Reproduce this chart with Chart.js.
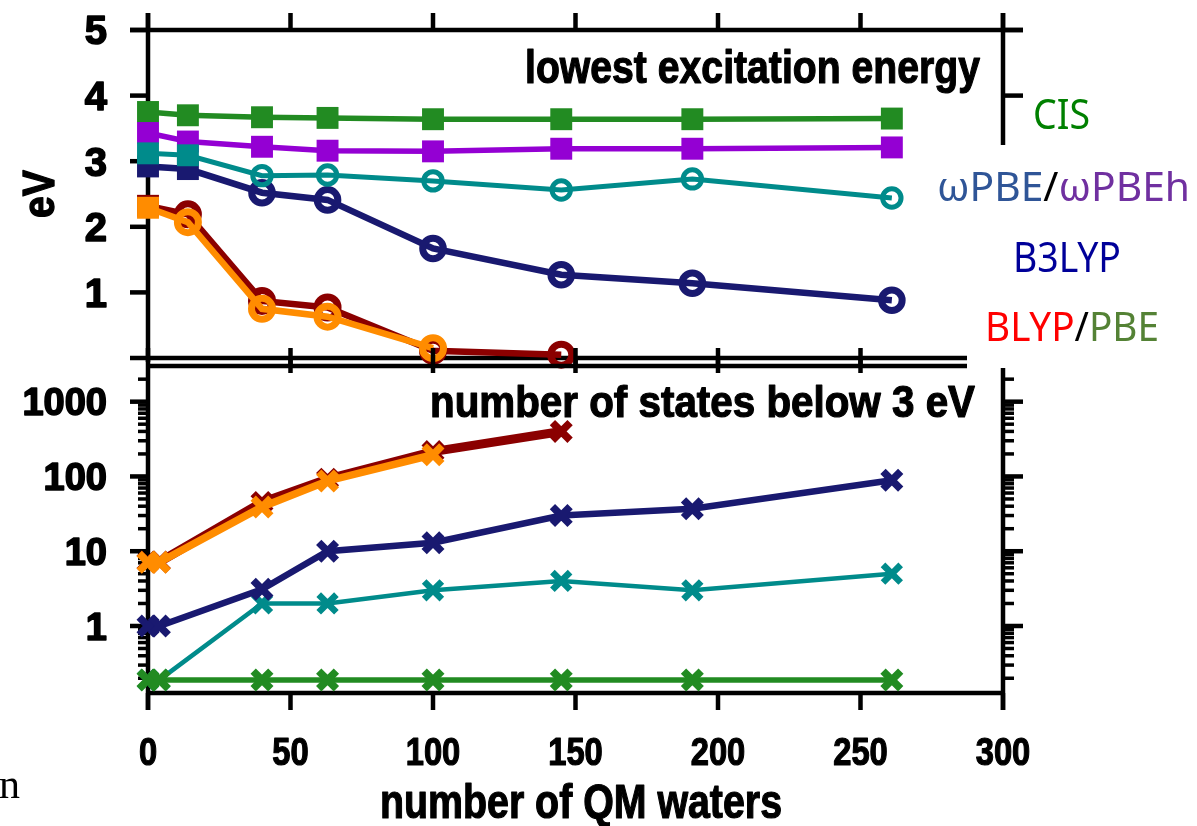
<!DOCTYPE html>
<html><head><meta charset="utf-8">
<script src="https://cdn.jsdelivr.net/npm/chart.js@4.4.1/dist/chart.umd.min.js"></script>
<style>
html,body{margin:0;padding:0;background:#fff;}
#wrap{position:relative;width:1197px;height:826px;overflow:hidden;background:#fff;}
canvas{position:absolute;left:0;top:0;}
</style></head><body>
<div id="wrap"><canvas id="cTop" width="1197" height="826"></canvas><canvas id="cBot" width="1197" height="826"></canvas></div>
<script>
// ---------------- data ----------------
const waterTop = [0, 14, 40, 63, 100, 145, 191, 261];
const waterBot = [0, 4, 40, 63, 100, 145, 191, 261];

// lowest excitation energy (eV)
const excCIS   = [3.75, 3.70, 3.67, 3.66, 3.64, 3.64, 3.64, 3.65];
const excWPBEh = [3.43, 3.30, 3.22, 3.16, 3.15, 3.19, 3.19, 3.21];
const excWPBE  = [3.12, 3.09, 2.78, 2.79, 2.70, 2.56, 2.73, 2.44];
const excB3LYP = [2.92, 2.88, 2.52, 2.41, 1.67, 1.27, 1.14, 0.88];
const excBLYP  = [2.32, 2.19, 0.87, 0.77, 0.11, 0.05];
const excPBE   = [2.29, 2.07, 0.75, 0.63, 0.15];

// number of leading square markers per series (rest are open circles)
const sqCIS = 8, sqWPBEh = 8, sqWPBE = 2, sqB3LYP = 2, sqBLYP = 1, sqPBE = 1;

// number of states below 3 eV
const nCIS   = [0.19, 0.19, 0.19, 0.19, 0.19, 0.19, 0.19, 0.19];
const nWPBE  = [0.19, 0.19, 2, 2, 3, 4, 3, 5];
const nB3LYP = [1, 1, 3.1, 10, 13, 30, 37, 89];
const nBLYP  = [7.2, 7.2, 45, 92, 215, 400];
const nPBE   = [7.1, 7.1, 39, 87, 195];

// axes
const waterRange = [0, 300];
const eRange = [0, 5];
const nRange = [0.127, 3000];
const xTickValues = [0, 50, 100, 150, 200, 250, 300];
const xTickLabels = ['0', '50', '100', '150', '200', '250', '300'];
const eTickValues = [0, 1, 2, 3, 4, 5];
const eTickLabels = ['', '1', '2', '3', '4', '5'];
const nTickValues = [1, 10, 100, 1000];
const nTickLabels = ['1', '10', '100', '1000'];
const nMinorMantissas = [2, 3, 4, 5, 6, 7, 8, 9];

// colours
const C_CIS = '#228B22', C_WPBEH = '#9400D3', C_WPBE = '#008B8B', C_B3LYP = '#191970', C_BLYP = '#8B0000', C_PBE = '#FF8C00';

// ---------------- helpers ----------------
function pts(xs, ys) { return ys.map((y, i) => ({x: xs[i], y: y})); }

function txt(ctx, runs, x, y, o) {
  ctx.save();
  ctx.font = o.font; ctx.textBaseline = 'alphabetic'; ctx.textAlign = 'left';
  const total = runs.reduce((s, r) => s + ctx.measureText(r[0]).width, 0);
  const sx = o.width ? o.width / total : (o.sx || 1);
  const w = total * sx;
  ctx.translate(x, y);
  if (o.rot) ctx.rotate(o.rot);
  const off = o.align === 'right' ? -w : (o.align === 'center' ? -w / 2 : 0);
  ctx.translate(off, 0);
  ctx.scale(sx, 1);
  let cx = 0;
  for (const [t, c] of runs) {
    ctx.fillStyle = c; ctx.fillText(t, cx, 0);
    if (o.stroke) { ctx.strokeStyle = c; ctx.lineWidth = o.stroke; ctx.lineJoin = 'round'; ctx.strokeText(t, cx, 0); }
    cx += ctx.measureText(t).width;
  }
  ctx.restore();
}
function seg(ctx, x1, y1, x2, y2) { ctx.beginPath(); ctx.moveTo(x1, y1); ctx.lineTo(x2, y2); ctx.stroke(); }

const BOLD = (s) => 'bold ' + s + 'px "Liberation Sans", Arial, Helvetica, sans-serif';
const SANS = (s) => s + 'px "Noto Sans", "Open Sans", sans-serif';
const LINE_END = 967;

function topSet(label, ys, color, nSq, lw, r, rw) {
  return {
    label, data: pts(waterTop, ys), borderColor: color, backgroundColor: color,
    borderWidth: lw, fill: false, tension: 0, clip: false,
    pointStyle: c => c.dataIndex < nSq ? 'rect' : 'circle',
    pointRadius: c => c.dataIndex < nSq ? 15.5 : r,
    pointHoverRadius: c => c.dataIndex < nSq ? 15.5 : r,
    pointBorderWidth: c => c.dataIndex < nSq ? 0 : rw,
    pointBackgroundColor: c => c.dataIndex < nSq ? color : 'rgba(0,0,0,0)',
    pointBorderColor: color
  };
}
function botSet(label, ys, color, lw, mw) {
  return {
    label, data: pts(waterBot, ys), borderColor: color, backgroundColor: color,
    borderWidth: lw, fill: false, tension: 0, clip: false,
    pointStyle: 'crossRot', pointRadius: 12.5, pointHoverRadius: 12.5,
    pointBorderWidth: mw, pointBorderColor: color, pointBackgroundColor: color
  };
}

// ---------------- top panel ----------------
const topFrame = {
  id: 'topFrame',
  beforeDatasetsDraw(chart) {
    const ctx = chart.ctx, xs = chart.scales.x, ys = chart.scales.y;
    const L = xs.getPixelForValue(waterRange[0]), R = xs.getPixelForValue(waterRange[1]);
    const T = ys.getPixelForValue(eRange[1]), B = ys.getPixelForValue(eRange[0]);
    ctx.save(); ctx.strokeStyle = '#000'; ctx.lineWidth = 4.5; ctx.lineCap = 'butt';
    seg(ctx, L, T - 17, L, B + 4);
    seg(ctx, L - 18, T, R + 20, T);
    seg(ctx, R, T - 17, R, 145);
    seg(ctx, L, B, LINE_END, B);
    eTickValues.forEach(v => { const y = ys.getPixelForValue(v); seg(ctx, L - 18, y, L, y); if (y < 140) seg(ctx, R, y, R + 20, y); });
    xTickValues.forEach(v => { const x = xs.getPixelForValue(v); seg(ctx, x, T - 17, x, T); if (x > L + 2 && x < LINE_END) seg(ctx, x, B, x, B + 15); });
    ctx.restore();
  },
  afterDraw(chart) {
    const ctx = chart.ctx, ys = chart.scales.y;
    eTickValues.forEach((v, i) => {
      if (!eTickLabels[i]) return;
      txt(ctx, [[eTickLabels[i], '#000']], 107, ys.getPixelForValue(v) + 14.3, {font: BOLD(40), align: 'right', stroke: 1.6});
    });
    txt(ctx, [['eV', '#000']], 54, 194, {font: BOLD(44), align: 'center', rot: -Math.PI / 2, width: 48, stroke: 1.4});
    txt(ctx, [['lowest excitation energy', '#000']], 525, 83, {font: BOLD(46), width: 455, stroke: 1.2});
    txt(ctx, [['CIS', '#008000']], 1033, 129, {font: SANS(42), width: 57});
    txt(ctx, [['ωPBE', '#2F5597'], ['/', '#000'], ['ωPBEh', '#7030A0']], 937, 201, {font: SANS(40), width: 253});
    txt(ctx, [['B3LYP', '#000099']], 1013, 272, {font: SANS(41), width: 108});
    txt(ctx, [['BLYP', '#FF0000'], ['/', '#000'], ['PBE', '#548235']], 985, 341, {font: SANS(40), width: 174});
    ctx.save(); ctx.font = '42px "Liberation Serif", "DejaVu Serif", serif'; ctx.fillStyle = '#000'; ctx.textBaseline = 'alphabetic';
    ctx.fillText('n', -1, 798); ctx.restore();
  }
};

new Chart(document.getElementById('cTop'), {
  type: 'line',
  data: { datasets: [
    topSet('PBE', excPBE, C_PBE, sqPBE, 6.5, 10.5, 7),
    topSet('BLYP', excBLYP, C_BLYP, sqBLYP, 6.5, 10.5, 7),
    topSet('ωPBE', excWPBE, C_WPBE, sqWPBE, 5, 9.2, 5),
    topSet('B3LYP', excB3LYP, C_B3LYP, sqB3LYP, 6.5, 10.3, 7),
    topSet('ωPBEh', excWPBEh, C_WPBEH, sqWPBEh, 5.5, 10, 5),
    topSet('CIS', excCIS, C_CIS, sqCIS, 5.5, 10, 5)
  ]},
  options: {
    responsive: false, animation: false, devicePixelRatio: 1, events: [],
    layout: { padding: { left: 148, top: 30, right: 1197 - 1003, bottom: 826 - 358 } },
    plugins: { legend: { display: false }, tooltip: { enabled: false } },
    scales: {
      x: { type: 'linear', min: waterRange[0], max: waterRange[1], display: false },
      y: { type: 'linear', min: eRange[0], max: eRange[1], display: false }
    }
  },
  plugins: [topFrame]
});

// ---------------- bottom panel ----------------
function minorTicks(lo, hi) {
  const out = [];
  for (let e = Math.floor(Math.log10(lo)); e <= Math.ceil(Math.log10(hi)); e++) {
    nMinorMantissas.forEach(m => { const v = m * Math.pow(10, e); if (v >= lo && v <= hi) out.push(v); });
  }
  return out;
}
const botFrame = {
  id: 'botFrame',
  beforeDatasetsDraw(chart) {
    const ctx = chart.ctx, xs = chart.scales.x, ys = chart.scales.y;
    const L = xs.getPixelForValue(waterRange[0]), R = xs.getPixelForValue(waterRange[1]);
    const T = ys.getPixelForValue(nRange[1]), B = ys.getPixelForValue(nRange[0]);
    ctx.save(); ctx.strokeStyle = '#000'; ctx.lineWidth = 4.5; ctx.lineCap = 'butt';
    seg(ctx, L, T - 18, L, B + 17);
    seg(ctx, L, T, LINE_END, T);
    seg(ctx, R, T + 2, R, B + 17);
    seg(ctx, L - 2, B, R + 2, B);
    nTickValues.forEach(v => { const y = ys.getPixelForValue(v); seg(ctx, L - 18, y, L, y); seg(ctx, R, y, R + 20, y); });
    ctx.lineWidth = 3.5;
    minorTicks(nRange[0], nRange[1]).forEach(v => { const y = ys.getPixelForValue(v); if (y < T + 3) return; seg(ctx, L - 10, y, L, y); seg(ctx, R, y, R + 11, y); });
    ctx.lineWidth = 4.5;
    xTickValues.forEach(v => { const x = xs.getPixelForValue(v); seg(ctx, x, B, x, B + 17); if (x > L + 2 && x < LINE_END) seg(ctx, x, T - 18, x, T); });
    ctx.restore();
  },
  afterDraw(chart) {
    const ctx = chart.ctx, xs = chart.scales.x, ys = chart.scales.y;
    nTickValues.forEach((v, i) => {
      txt(ctx, [[nTickLabels[i], '#000']], 107, ys.getPixelForValue(v) + 13.6, {font: BOLD(38), align: 'right', stroke: 1.6});
    });
    xTickValues.forEach((v, i) => {
      txt(ctx, [[xTickLabels[i], '#000']], xs.getPixelForValue(v), 765, {font: BOLD(38), align: 'center', sx: 0.86, stroke: 1.2});
    });
    txt(ctx, [['number of QM waters', '#000']], 380, 818, {font: BOLD(48), width: 402, stroke: 1.2});
    txt(ctx, [['number of states below 3 eV', '#000']], 430, 417, {font: BOLD(44), width: 545, stroke: 1.2});
  }
};

new Chart(document.getElementById('cBot'), {
  type: 'line',
  data: { datasets: [
    botSet('CIS', nCIS, C_CIS, 5.5, 7.5),
    botSet('PBE', nPBE, C_PBE, 7.5, 7.5),
    botSet('BLYP', nBLYP, C_BLYP, 9, 7.5),
    botSet('B3LYP', nB3LYP, C_B3LYP, 6.5, 7.5),
    botSet('ωPBE', nWPBE, C_WPBE, 4.5, 6.5)
  ]},
  options: {
    responsive: false, animation: false, devicePixelRatio: 1, events: [],
    layout: { padding: { left: 148, top: 366, right: 1197 - 1003, bottom: 826 - 693 } },
    plugins: { legend: { display: false }, tooltip: { enabled: false } },
    scales: {
      x: { type: 'linear', min: waterRange[0], max: waterRange[1], display: false },
      y: { type: 'logarithmic', min: nRange[0], max: nRange[1], display: false }
    }
  },
  plugins: [botFrame]
});
</script>
</body></html>
